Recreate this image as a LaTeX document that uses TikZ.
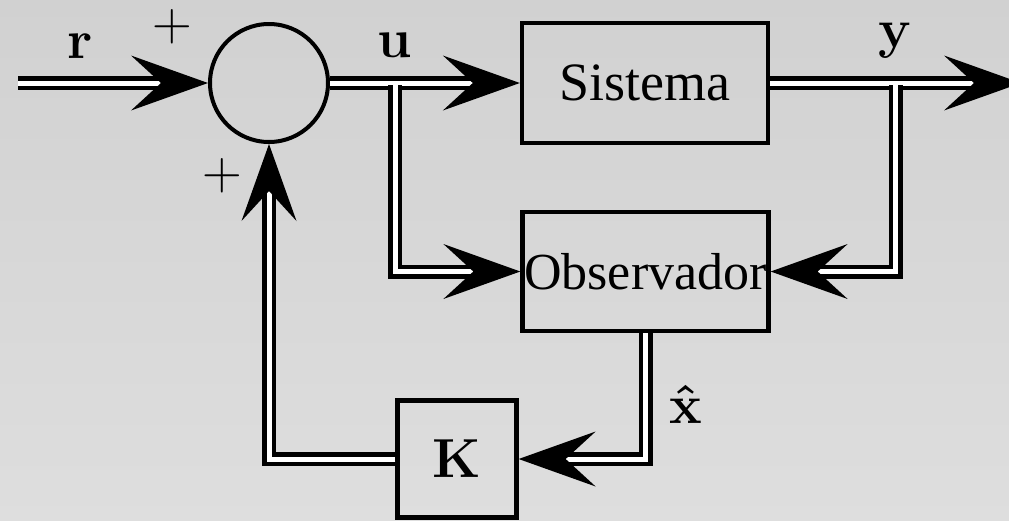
\RequirePackage{fix-cm}
\documentclass[tikz,border=0pt]{standalone}
\usepackage[no-math]{fontspec}
\setmainfont{Liberation Serif}
\usetikzlibrary{arrows.meta}

\tikzset{
  sig/.style={draw=black, line width=4.5pt, double=white, double distance=5pt},
  tipped/.style={-{Stealth[length=77pt,width=55pt,inset=30pt,line width=0pt]}},
  block/.style={draw=black, line width=4.3pt, inner sep=0pt, rectangle},
  lbl/.style={inner sep=0pt, font=\fontsize{55}{60}\selectfont}
}

\begin{document}
\begin{tikzpicture}[x=1pt, y=-1pt]
  % canvas with a soft vertical gradient
  \shade[top color=black!18, bottom color=black!13] (0,0) rectangle (1009,520);
  \useasboundingbox (0,0) rectangle (1009,520);

  % blocks
  \node[draw=black, line width=4pt, circle, minimum size=118pt, inner sep=0pt] (sum) at (269,83) {};
  \node[block, minimum width=246pt, minimum height=120pt,
        font=\fontsize{54}{60}\selectfont] (sys) at (645,83) {Sistema};
  \node[block, minimum width=246pt, minimum height=119pt, text width=244pt, align=center,
        font=\fontsize{52}{60}\selectfont] (obs) at (645.5,271.5) {Observador};
  \node[block, minimum width=119pt, minimum height=117pt,
        font=\fontsize{55}{60}\selectfont] (gain) at (457,459) {$\mathbf{K}$};

  % free ends and branch points
  \coordinate (rin) at (18,83);
  \coordinate (yout) at (1021,83);
  \coordinate (ubr) at (395,85);
  \coordinate (ybr) at (895.5,85);

  % forward path
  \draw[sig, tipped] (rin) -- (sum.west);
  \draw[sig, tipped] (sum.east) -- (sys.west);
  \draw[sig, tipped] (sys.east) -- (yout);

  % observer inputs
  \draw[sig, tipped] (ubr) |- (obs.west);
  \draw[sig, tipped] (ybr) |- (obs.east);

  % state feedback
  \draw[sig, tipped] (obs.south) |- (gain.east);
  \draw[sig, tipped] (gain.west) -| (sum.south);

  % signal labels
  \node[lbl] (lr) at (80.5,46) {$\mathbf{r}$};
  \node[lbl] (lu) at (395,45.5) {$\mathbf{u}$};
  \node[lbl] (ly) at (895,41) {$\mathbf{y}$};
  \node[lbl] (lx) at (686,404) {$\mathbf{\hat{x}}$};
  \node[lbl] (p1) at (172,27) {$+$};
  \node[lbl] (p2) at (222,176) {$+$};
\end{tikzpicture}
\end{document}
